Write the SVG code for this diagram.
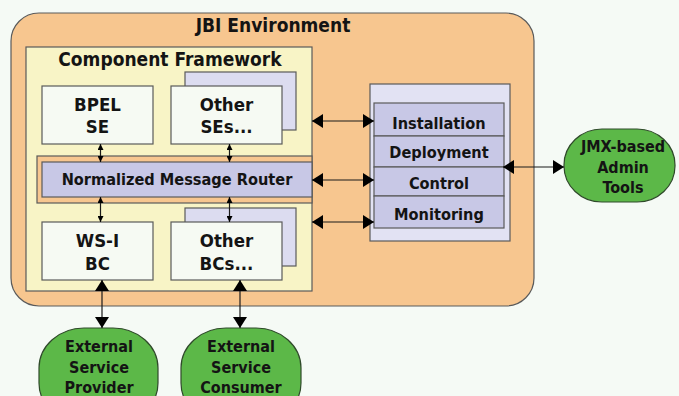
<svg xmlns="http://www.w3.org/2000/svg" width="679" height="396" viewBox="0 0 679 396">
  <style>
    text { font-family: "DejaVu Sans Condensed", "Liberation Sans", sans-serif; font-weight: bold; fill: #141414; text-anchor: middle; }
    .title { font-size: 19px; }
    .lbl { font-size: 18.5px; }
    .row { font-size: 16.2px; }
    .oval { font-size: 16px; }
    .edge { stroke: #5a5a5a; stroke-width: 1.2; }
    .box { fill: #f6faf3; stroke: #5a5a5a; stroke-width: 1.2; }
    .shadow { fill: #dcdcf0; stroke: #5a5a5a; stroke-width: 1.2; }
    .panel { fill: #e2e2f3; stroke: #5a5a5a; stroke-width: 1.2; }
    .lav { fill: #c8c8e6; stroke: #5a5a5a; stroke-width: 1.2; }
    .green { fill: #5cb848; stroke: #2f4a2a; stroke-width: 1.2; }
    .conn { stroke: #1a1a1a; stroke-width: 1.2; fill: none; }
  </style>
  <defs>
    <marker id="headBig" viewBox="0 0 11 14" refX="11" refY="7" markerWidth="11" markerHeight="14" markerUnits="userSpaceOnUse" orient="auto-start-reverse">
      <path d="M0,0 L11,7 L0,14 Z" fill="#000"/>
    </marker>
    <marker id="headSmall" viewBox="0 0 6 6" refX="6" refY="3" markerWidth="6" markerHeight="6" markerUnits="userSpaceOnUse" orient="auto-start-reverse">
      <path d="M0,0 L6,3 L0,6 Z" fill="#000"/>
    </marker>
  </defs>

  <!-- page background -->
  <rect x="0" y="0" width="679" height="396" fill="#f5faf5"/>

  <!-- JBI environment container -->
  <g id="jbi-environment">
    <rect x="11" y="13" width="523" height="293" rx="28" ry="28" fill="#f7c68f" stroke="#5a5a5a" stroke-width="1.2"/>
    <text class="title" x="273" y="32">JBI Environment</text>
  </g>

  <!-- component framework -->
  <g id="component-framework">
    <rect x="26" y="47" width="286" height="244" fill="#f8f4c6" class="edge"/>
    <text class="title" x="170" y="66">Component Framework</text>
  </g>

  <!-- band carrying the router -->
  <g id="router-band">
    <rect x="37" y="156" width="275" height="47" fill="#f7c68f" class="edge"/>
  </g>

  <g id="nmr">
    <rect x="42" y="162" width="270" height="35" class="lav"/>
    <text class="row" x="177" y="185">Normalized Message Router</text>
  </g>

  <g id="bpel-se">
    <rect x="42" y="86" width="111" height="58" class="box"/>
    <text class="lbl" x="97.5" y="111">BPEL</text>
    <text class="lbl" x="97.5" y="133">SE</text>
  </g>

  <g id="other-ses">
    <rect x="185" y="72" width="111" height="58" class="shadow"/>
    <rect x="171" y="86" width="111" height="58" class="box"/>
    <text class="lbl" x="226.5" y="111">Other</text>
    <text class="lbl" x="226.5" y="133">SEs...</text>
  </g>

  <g id="wsi-bc">
    <rect x="42" y="222" width="111" height="58" class="box"/>
    <text class="lbl" x="97.5" y="247">WS-I</text>
    <text class="lbl" x="97.5" y="270">BC</text>
  </g>

  <g id="other-bcs">
    <rect x="185" y="208" width="111" height="58" class="shadow"/>
    <rect x="171" y="222" width="111" height="58" class="box"/>
    <text class="lbl" x="226.5" y="247">Other</text>
    <text class="lbl" x="226.5" y="270">BCs...</text>
  </g>

  <!-- management services -->
  <g id="management">
    <rect x="370" y="84" width="140" height="157" class="panel"/>
    <rect x="374" y="103" width="130" height="33" class="lav"/>
    <rect x="374" y="136" width="130" height="31" class="lav"/>
    <rect x="374" y="167" width="130" height="29" class="lav"/>
    <rect x="374" y="196" width="130" height="32" class="lav"/>
    <text class="row" x="439" y="129">Installation</text>
    <text class="row" x="439" y="158">Deployment</text>
    <text class="row" x="439" y="189">Control</text>
    <text class="row" x="439" y="220">Monitoring</text>
  </g>

  <g id="jmx-tools">
    <rect x="564" y="129" width="111" height="73" rx="38" ry="36" class="green"/>
    <text class="oval" x="623" y="152">JMX-based</text>
    <text class="oval" x="623" y="173">Admin</text>
    <text class="oval" x="623" y="193">Tools</text>
  </g>

  <g id="ext-provider">
    <rect x="39" y="328" width="119" height="95" rx="45" ry="40" class="green"/>
    <text class="oval" x="99" y="352">External</text>
    <text class="oval" x="99" y="373">Service</text>
    <text class="oval" x="99" y="393">Provider</text>
  </g>

  <g id="ext-consumer">
    <rect x="181" y="328" width="120" height="95" rx="45" ry="40" class="green"/>
    <text class="oval" x="241" y="352">External</text>
    <text class="oval" x="241" y="373">Service</text>
    <text class="oval" x="241" y="393">Consumer</text>
  </g>

  <!-- connectors -->
  <g id="connectors">
    <line class="conn" x1="100.5" y1="144" x2="100.5" y2="162" marker-start="url(#headSmall)" marker-end="url(#headSmall)"/>
    <line class="conn" x1="229.5" y1="144" x2="229.5" y2="162" marker-start="url(#headSmall)" marker-end="url(#headSmall)"/>
    <line class="conn" x1="100.5" y1="197" x2="100.5" y2="222" marker-start="url(#headSmall)" marker-end="url(#headSmall)"/>
    <line class="conn" x1="229.5" y1="197" x2="229.5" y2="222" marker-start="url(#headSmall)" marker-end="url(#headSmall)"/>
    <line class="conn" x1="312" y1="121" x2="374" y2="121" marker-start="url(#headBig)" marker-end="url(#headBig)"/>
    <line class="conn" x1="312" y1="180" x2="374" y2="180" marker-start="url(#headBig)" marker-end="url(#headBig)"/>
    <line class="conn" x1="312" y1="222" x2="374" y2="222" marker-start="url(#headBig)" marker-end="url(#headBig)"/>
    <line class="conn" x1="503" y1="167" x2="564" y2="167" marker-start="url(#headBig)" marker-end="url(#headBig)"/>
    <line class="conn" x1="102" y1="280" x2="102" y2="328" marker-start="url(#headBig)" marker-end="url(#headBig)"/>
    <line class="conn" x1="240" y1="280" x2="240" y2="328" marker-start="url(#headBig)" marker-end="url(#headBig)"/>
  </g>
</svg>
